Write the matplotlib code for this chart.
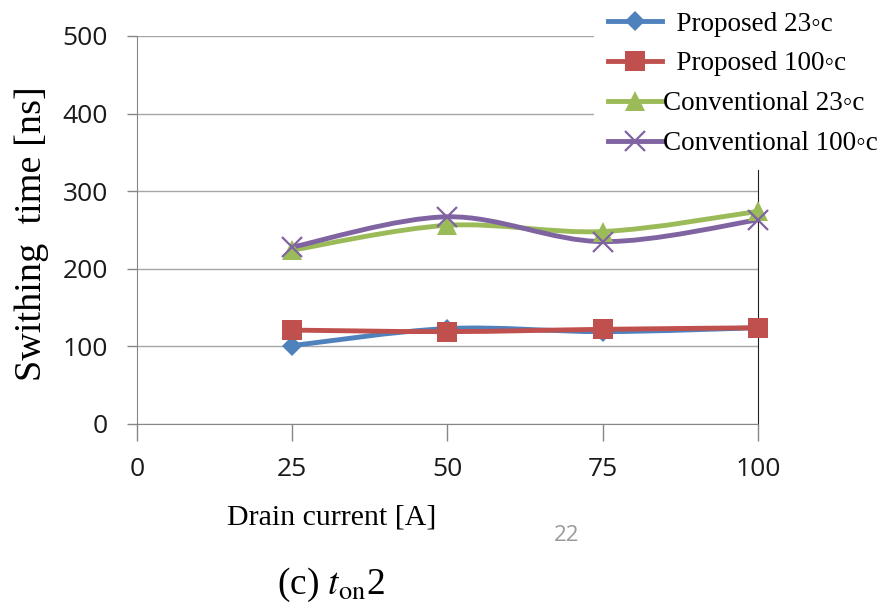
import numpy as np
import matplotlib
matplotlib.use("Agg")
import matplotlib.pyplot as plt
from matplotlib.path import Path
from matplotlib.patches import PathPatch
from matplotlib.lines import Line2D

# Drain current points and measured switching times (ns)
current = [25, 50, 75, 100]
prop_23 = [101, 123, 119, 124]
prop_100 = [121, 119, 122, 124]
conv_23 = [224, 256, 248, 274]
conv_100 = [228, 267, 235, 263]

x_ticks = [0, 25, 50, 75, 100]
y_ticks = [0, 100, 200, 300, 400, 500]

series = [
    (prop_23, "#4F81BD", "D", 10, "  Proposed 23\u25e6c"),
    (prop_100, "#C0504D", "s", 14, "  Proposed 100\u25e6c"),
    (conv_23, "#9BBB59", "^", 14, "Conventional 23\u25e6c"),
    (conv_100, "#8064A2", "x", 15, "Conventional 100\u25e6c"),
]

serif = ["Liberation Serif", "DejaVu Serif"]
plt.rcParams["mathtext.fontset"] = "stix"


def smooth_path(xs, ys):
    # Excel-style smoothed line: cubic Bezier through every point
    pts = np.column_stack([xs, ys]).astype(float)
    n = len(pts)
    verts = [pts[0]]
    codes = [Path.MOVETO]
    for i in range(n - 1):
        p0 = pts[i - 1] if i > 0 else pts[i]
        p1 = pts[i]
        p2 = pts[i + 1]
        p3 = pts[i + 2] if i + 2 < n else pts[i + 1]
        c1 = p1 + (p2 - p0) / 6.0
        c2 = p2 - (p3 - p1) / 6.0
        verts += [c1, c2, p2]
        codes += [Path.CURVE4] * 3
    return Path(verts, codes)


fig = plt.figure(figsize=(8.82, 6.16), dpi=100)
ax = fig.add_axes([0.1553, 0.3117, 0.7041, 0.6299])

handles = []
for ys, color, marker, ms, label in series:
    ax.add_patch(PathPatch(smooth_path(current, ys), fill=False,
                           edgecolor=color, lw=3.5, zorder=3, capstyle="round"))
    mew = 1.6 if marker == "x" else 0
    ax.plot(current, ys, linestyle="none", marker=marker, ms=ms,
            color=color, mec=color, mew=mew, zorder=4, clip_on=False)
    handles.append(Line2D([], [], color=color, lw=3.5, marker=marker, ms=ms,
                          mec=color, mew=mew, label=label))

ax.set_xlim(0, 100)
ax.set_ylim(0, 500)
ax.set_xticks(x_ticks)
ax.set_yticks(y_ticks)
ax.grid(axis="y", color="#A6A6A6", lw=1)
ax.set_axisbelow(True)

for side in ["left", "bottom", "top"]:
    ax.spines[side].set_color("#868686")
ax.spines["right"].set_color("#202020")
ax.spines["top"].set_visible(False)

ax.tick_params(axis="x", direction="out", length=12, width=1, color="#868686",
               pad=12, labelsize=19)
ax.tick_params(axis="y", direction="out", length=7, width=1, color="#868686",
               pad=14, labelsize=19)
for lab in ax.get_xticklabels() + ax.get_yticklabels():
    lab.set_fontfamily("Open Sans")
    lab.set_color("#1a1a1a")

fig.text(0.376, 0.160, "Drain current [A]", family=serif, fontsize=21.5,
         ha="center", va="center")
fig.text(0.036, 0.620, "Swithing  time [ns]", family=serif, fontsize=27.5,
         rotation=90, ha="center", va="center")
fig.text(0.375, 0.050, r"(c) $\mathit{t}_{\mathrm{on}}$2", family=serif,
         fontsize=27, ha="center", va="center")
fig.text(0.642, 0.130, "22", family="Open Sans", fontsize=16,
         color="#9a9a9a", ha="center", va="center")

leg = fig.legend(handles=handles, loc="upper right",
                 bbox_to_anchor=(1.0, 1.012), frameon=True,
                 prop={"family": serif, "size": 19.5}, handlelength=2.0,
                 handletextpad=0.05, labelspacing=0.55, borderpad=0.5,
                 borderaxespad=0.2)
leg.get_frame().set_facecolor("white")
leg.get_frame().set_edgecolor("none")
leg.get_frame().set_alpha(1)
# pull the legend box to the right edge of the figure
leg.set_bbox_to_anchor((1.017, 1.012), transform=fig.transFigure)

fig.savefig("out.png", dpi=100)
